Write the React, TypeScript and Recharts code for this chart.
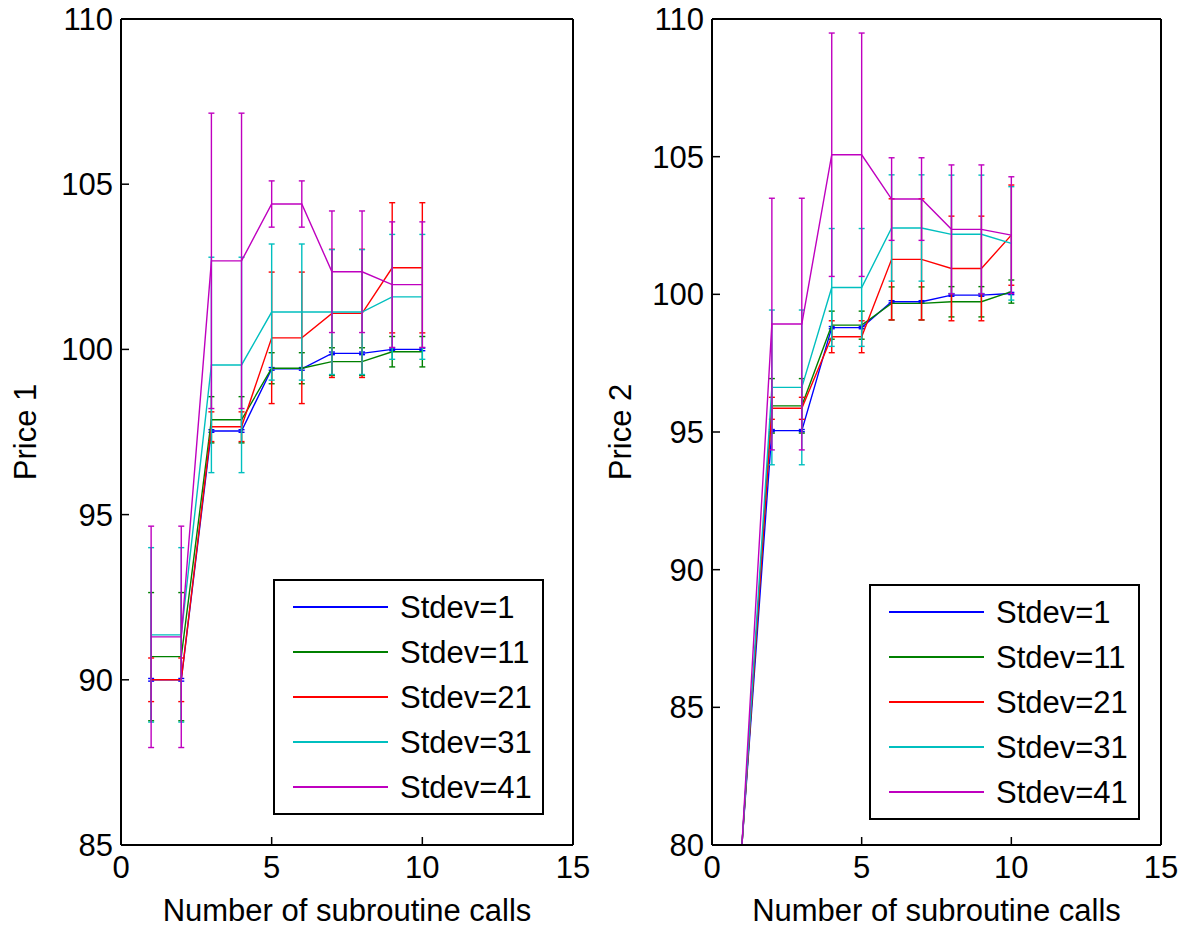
import { LineChart, Line, XAxis, YAxis, ErrorBar, Legend } from 'recharts';

const callCounts = [1, 2, 3, 4, 5, 6, 7, 8, 9, 10];
const seriesNames = ['Stdev=1', 'Stdev=11', 'Stdev=21', 'Stdev=31', 'Stdev=41'];
const seriesColors = ['#0000ff', '#008000', '#ff0000', '#00bfbf', '#bf00bf'];
const xTicks = [0, 5, 10, 15];
const price1Ticks = [85, 90, 95, 100, 105, 110];
const price2Ticks = [80, 85, 90, 95, 100, 105, 110];

// Price 1: mean per call count, and error bar half-height
const price1Sd1 = [90.0, 90.0, 97.53, 97.53, 99.41, 99.41, 99.88, 99.88, 100.0, 100.0];
const price1Sd11 = [90.7, 90.7, 97.87, 97.87, 99.43, 99.43, 99.63, 99.63, 99.93, 99.93];
const price1Sd21 = [90.0, 90.0, 97.66, 97.66, 100.35, 100.35, 101.09, 101.09, 102.47, 102.47];
const price1Sd31 = [91.36, 91.36, 99.53, 99.53, 101.13, 101.13, 101.13, 101.13, 101.59, 101.59];
const price1Sd41 = [91.3, 91.3, 102.68, 102.68, 104.4, 104.4, 102.35, 102.35, 101.96, 101.96];

const price1Sd1Err = [0.04, 0.04, 0.04, 0.04, 0.04, 0.04, 0.04, 0.04, 0.04, 0.04];
const price1Sd11Err = [1.94, 1.94, 0.7, 0.7, 0.47, 0.47, 0.42, 0.42, 0.46, 0.46];
const price1Sd21Err = [0.66, 0.66, 0.45, 0.45, 1.99, 1.99, 1.94, 1.94, 1.97, 1.97];
const price1Sd31Err = [2.64, 2.64, 3.26, 3.26, 2.06, 2.06, 1.89, 1.89, 1.89, 1.89];
const price1Sd41Err = [3.35, 3.35, 4.47, 4.47, 0.7, 0.7, 1.84, 1.84, 1.9, 1.9];

// Price 2
const price2Sd1 = [80, 95.05, 95.05, 98.79, 98.79, 99.73, 99.73, 99.97, 99.97, 100.03];
const price2Sd11 = [80, 95.95, 95.95, 98.88, 98.88, 99.67, 99.67, 99.73, 99.73, 100.1];
const price2Sd21 = [80, 95.86, 95.86, 98.46, 98.46, 101.27, 101.27, 100.94, 100.94, 102.15];
const price2Sd31 = [80, 96.62, 96.62, 100.25, 100.25, 102.41, 102.41, 102.18, 102.18, 101.85];
const price2Sd41 = [80, 98.92, 98.92, 105.07, 105.07, 103.46, 103.46, 102.36, 102.36, 102.15];

const price2Sd1Err = [0, 0.04, 0.04, 0.04, 0.04, 0.04, 0.04, 0.04, 0.04, 0.04];
const price2Sd11Err = [0, 0.99, 0.99, 0.51, 0.51, 0.6, 0.6, 0.55, 0.55, 0.42];
const price2Sd21Err = [0, 0.4, 0.4, 0.58, 0.58, 2.2, 2.2, 1.9, 1.9, 1.82];
const price2Sd31Err = [0, 2.81, 2.81, 2.14, 2.14, 1.93, 1.93, 2.15, 2.15, 2.06];
const price2Sd41Err = [0, 4.57, 4.57, 4.42, 4.42, 1.5, 1.5, 2.34, 2.34, 2.12];

const makeRows = (means: number[][], errs: number[][]) =>
  callCounts.map((calls, i) => {
    const row: Record<string, number> = { calls };
    means.forEach((m, k) => {
      row[`s${k}`] = m[i];
      row[`e${k}`] = errs[k][i];
    });
    return row;
  });

const price1Rows = makeRows(
  [price1Sd1, price1Sd11, price1Sd21, price1Sd31, price1Sd41],
  [price1Sd1Err, price1Sd11Err, price1Sd21Err, price1Sd31Err, price1Sd41Err]
);
const price2Rows = makeRows(
  [price2Sd1, price2Sd11, price2Sd21, price2Sd31, price2Sd41],
  [price2Sd1Err, price2Sd11Err, price2Sd21Err, price2Sd31Err, price2Sd41Err]
);

const FONT = '"Liberation Sans", Arial, Helvetica, sans-serif';
const FS = 31;
const axisLine = { stroke: '#000', strokeWidth: 2 };
const tickLine = { stroke: '#000', strokeWidth: 1.5 };

const renderLegend = () => (
  <div
    style={{
      width: 271,
      height: 236,
      boxSizing: 'border-box',
      border: '2px solid #000',
      background: '#fff',
      paddingTop: 3.5,
      fontFamily: FONT,
      fontSize: FS,
      color: '#000',
    }}
  >
    {seriesNames.map((name, k) => (
      <div key={name} style={{ height: 45, display: 'flex', alignItems: 'center' }}>
        <svg width={113} height={4} style={{ display: 'block' }}>
          <line x1={18} y1={2} x2={113} y2={2} stroke={seriesColors[k]} strokeWidth={2} />
        </svg>
        <span style={{ marginLeft: 12, lineHeight: 1 }}>{name}</span>
      </div>
    ))}
  </div>
);

interface PanelProps {
  rows: Record<string, number>[];
  yDomain: [number, number];
  yTicks: number[];
  yTitle: string;
  axisWidth: number;
  rightGap: number;
  titleX: number;
  legendX: number;
  legendY: number;
}

function PricePanel({ rows, yDomain, yTicks, yTitle, axisWidth, rightGap, titleX, legendX, legendY }: PanelProps) {
  return (
    <LineChart width={598} height={931} data={rows} margin={{ top: 18, right: rightGap, bottom: 26, left: 0 }}>
      <XAxis
        xAxisId="b"
        dataKey="calls"
        type="number"
        domain={[0, 15]}
        ticks={xTicks}
        interval={0}
        allowDataOverflow
        height={60}
        tickSize={-8}
        tickMargin={19}
        axisLine={axisLine}
        tickLine={tickLine}
        tick={{ fill: '#000', fontSize: FS, fontFamily: FONT }}
        label={(p: any) => (
          <text
            x={p.viewBox.x + p.viewBox.width / 2}
            y={p.viewBox.y + 65}
            textAnchor="middle"
            dominantBaseline="central"
            fontSize={FS}
            fontFamily={FONT}
            fill="#000"
          >
            Number of subroutine calls
          </text>
        )}
      />
      <XAxis
        xAxisId="t"
        orientation="top"
        dataKey="calls"
        type="number"
        domain={[0, 15]}
        ticks={xTicks}
        interval={0}
        allowDataOverflow
        height={1}
        tickSize={-8}
        axisLine={axisLine}
        tickLine={tickLine}
        tick={false}
      />
      <YAxis
        yAxisId="l"
        type="number"
        domain={yDomain}
        ticks={yTicks}
        interval={0}
        allowDataOverflow
        width={axisWidth}
        tickSize={-8}
        tickMargin={16}
        axisLine={axisLine}
        tickLine={tickLine}
        tick={{ fill: '#000', fontSize: FS, fontFamily: FONT }}
        label={(p: any) => {
          const cx = titleX;
          const cy = p.viewBox.y + p.viewBox.height / 2;
          return (
            <text
              x={cx}
              y={cy}
              transform={`rotate(-90 ${cx} ${cy})`}
              textAnchor="middle"
              dominantBaseline="central"
              fontSize={FS}
              fontFamily={FONT}
              fill="#000"
            >
              {yTitle}
            </text>
          );
        }}
      />
      <YAxis
        yAxisId="r"
        orientation="right"
        type="number"
        domain={yDomain}
        ticks={yTicks}
        interval={0}
        allowDataOverflow
        width={1}
        tickSize={-8}
        axisLine={axisLine}
        tickLine={tickLine}
        tick={false}
      />
      {seriesNames.map((name, k) => (
        <Line
          key={name}
          xAxisId="b"
          yAxisId="l"
          type="linear"
          dataKey={`s${k}`}
          name={name}
          stroke={seriesColors[k]}
          strokeWidth={1.4}
          dot={false}
          activeDot={false}
          isAnimationActive={false}
        >
          <ErrorBar dataKey={`e${k}`} direction="y" width={3} stroke={seriesColors[k]} strokeWidth={1.4} isAnimationActive={false} />
        </Line>
      ))}
      <Legend
        layout="vertical"
        align="center"
        verticalAlign="middle"
        content={renderLegend}
        wrapperStyle={{ left: legendX, top: legendY, width: 271, height: 236 }}
      />
    </LineChart>
  );
}

export default function App() {
  return (
    <div style={{ position: 'absolute', left: 0, top: 0, width: 1196, height: 931, background: '#fff', fontFamily: FONT }}>
      <div style={{ position: 'absolute', left: 0, top: 0 }}>
        <PricePanel
          rows={price1Rows}
          yDomain={[85, 110]}
          yTicks={price1Ticks}
          yTitle="Price 1"
          axisWidth={121}
          rightGap={24}
          titleX={25}
          legendX={273}
          legendY={579}
        />
      </div>
      <div style={{ position: 'absolute', left: 598, top: 0 }}>
        <PricePanel
          rows={price2Rows}
          yDomain={[80, 110]}
          yTicks={price2Ticks}
          yTitle="Price 2"
          axisWidth={114}
          rightGap={34}
          titleX={22}
          legendX={271}
          legendY={584}
        />
      </div>
    </div>
  );
}
